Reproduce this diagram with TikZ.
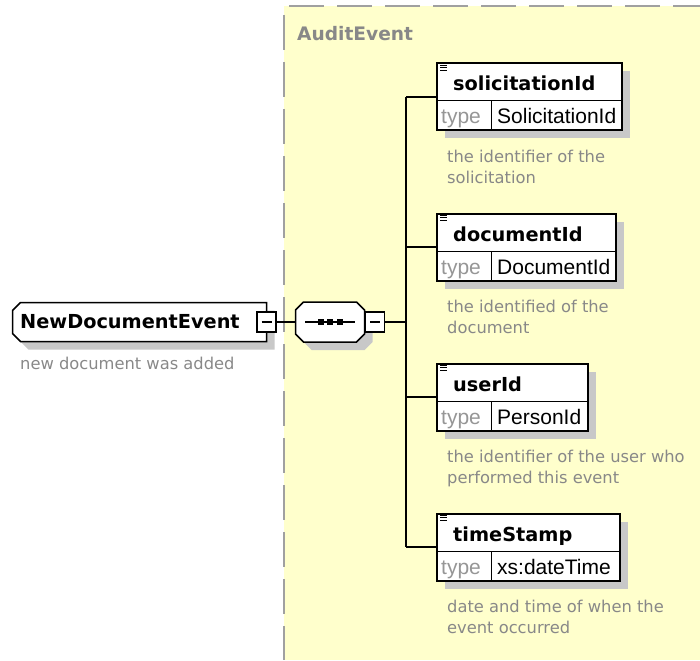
\documentclass[tikz,border=0pt]{standalone}
\usepackage{fontspec}
\setmainfont{DejaVu Sans}
\newfontfamily\arialfont{Liberation Sans}
\usetikzlibrary{shadows}
\definecolor{areafill}{RGB}{255,255,204}
\definecolor{shadegray}{RGB}{200,200,200}
\definecolor{notegray}{RGB}{136,136,136}
\definecolor{typegray}{RGB}{150,150,150}
\definecolor{dashgray}{RGB}{160,160,160}

\begin{document}
\begin{tikzpicture}[x=1pt, y=-1pt,
  dropshade/.style={drop shadow={shadow xshift=8pt, shadow yshift=-8pt, fill=shadegray, opacity=1}},
  castshade/.style={fill=shadegray, transform canvas={shift={(8pt,-8pt)}}},
  outline/.style={draw, line width=1.5pt, fill=white, line join=miter},
  elbox/.style={draw, line width=2pt, fill=white, dropshade, anchor=north west, minimum height=67pt,
    inner sep=0pt, outer sep=0pt},
  evtbox/.style={minimum width=254pt, minimum height=39pt, inner sep=0pt, outer sep=0pt},
  seqbox/.style={minimum width=69pt, minimum height=40pt, inner sep=0pt, outer sep=0pt},
  foldbox/.style={draw, line width=1.2pt, fill=white, minimum width=19pt, minimum height=20pt,
    inner sep=0pt, outer sep=0pt,
    path picture={\draw[line width=1.2pt] ([xshift=-5pt]path picture bounding box.center)
      -- ([xshift=5pt]path picture bounding box.center);}},
  ttl/.style={anchor=base west, inner sep=0pt, font=\fontsize{19.3}{23}\selectfont\bfseries},
  typ/.style={anchor=base west, inner sep=0pt, text=typegray, font=\arialfont\fontsize{21}{24}\selectfont},
  val/.style={anchor=base west, inner sep=0pt, font=\arialfont\fontsize{21}{24}\selectfont},
  desc/.style={anchor=north west, inner sep=0pt, align=left, text=notegray,
    font=\fontsize{16.3}{21.5}\selectfont},
  conn/.style={line width=1.5pt}]
\useasboundingbox (0,0) rectangle (700,660);
\fill[areafill] (284,6) rectangle (700,660);
\draw[line width=2pt, dashgray, dash pattern=on 35pt off 12pt] (284,15) -- (284,660);
\draw[line width=2pt, dashgray, dash pattern=on 35pt off 13pt] (289,6) -- (700,6);
\node[ttl, text=notegray, font=\fontsize{18.6}{22}\selectfont\bfseries] (area) at (297,41) {AuditEvent};
% chamfered outlines: left corners only / all four corners
\newcommand{\leftcut}[1]{([xshift=8pt]#1.north west) -- (#1.north east) -- (#1.south east)
  -- ([xshift=8pt]#1.south west) -- ([yshift=8pt]#1.south west) -- ([yshift=-8pt]#1.north west) -- cycle}
\newcommand{\allcut}[1]{([xshift=8pt]#1.north west) -- ([xshift=-8pt]#1.north east)
  -- ([yshift=-8pt]#1.north east) -- ([yshift=8pt]#1.south east) -- ([xshift=-8pt]#1.south east)
  -- ([xshift=8pt]#1.south west) -- ([yshift=8pt]#1.south west) -- ([yshift=-8pt]#1.north west) -- cycle}
\node[evtbox] (evt) at (139.5,322) {};
\path[castshade] \leftcut{evt};
\draw[outline] \leftcut{evt};
\node[ttl] (evt-name) at (20,328) {NewDocumentEvent};
\node[foldbox] (evt-fold) at (266.5,322) {};
\node[desc, anchor=base west] (evt-desc) at (20,369) {new document was added};
\node[seqbox] (seq) at (330,322) {};
\path[castshade] \allcut{seq};
\draw[outline] \allcut{seq};
\draw[line width=1.5pt] ([xshift=-25pt]seq.center) -- ([xshift=25pt]seq.center);
\foreach \d in {-9.5,0,9.5}
  \fill ([xshift=\d pt]seq.center) +(-3,-2.6) rectangle +(3,2.6);
\node[foldbox] (seq-fold) at (375,322) {};
\coordinate (trunk) at (406,322);
\draw[conn] (evt-fold.east) -- (seq.west);
\draw[conn] (seq-fold.east) -- (trunk);
\newcommand{\elem}[6]{
  \draw[conn] (trunk |- 0,#2+33.5) -- (437,#2+33.5);
  \node[elbox, minimum width=#3] (#1) at (437,#2) {};
  \draw[line width=1pt] ([yshift=-37.5pt]#1.north west) -- ([yshift=-37.5pt]#1.north east);
  \draw[line width=1pt] ([xshift=54pt,yshift=-37.5pt]#1.north west) -- ([xshift=54pt]#1.south west);
  \foreach \k in {2,4.4,6.8} \draw[line width=1pt] ([xshift=3pt,yshift=-\k]#1.north west) -- +(7,0);
  \node[ttl] (#1-name) at ([xshift=16pt,yshift=-27.5pt]#1.north west) {#4};
  \node[typ] (#1-type) at ([xshift=4pt,yshift=-60.5pt]#1.north west) {type};
  \node[val] (#1-val) at ([xshift=60pt,yshift=-60.5pt]#1.north west) {#5};
  \node[desc] (#1-desc) at ([xshift=10pt,yshift=-86.1pt]#1.north west) {#6};}
\elem{sol}{63.5}{185}{solicitationId}{SolicitationId}{the identifier of the\\solicitation}
\elem{doc}{213.5}{179}{documentId}{DocumentId}{the identified of the\\document}
\elem{usr}{363.5}{151}{userId}{PersonId}{the identifier of the user who\\performed this event}
\elem{ts}{513.5}{183}{timeStamp}{xs:dateTime}{date and time of when the\\event occurred}
\draw[conn] (sol.west -| trunk) -- (ts.west -| trunk);
\end{tikzpicture}
\end{document}
